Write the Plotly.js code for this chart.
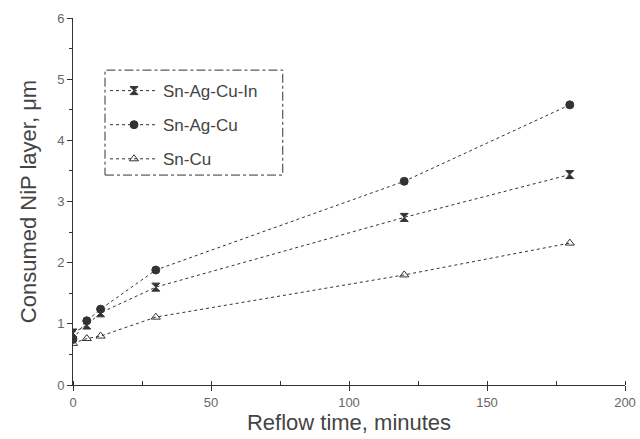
<!DOCTYPE html>
<html>
<head>
<meta charset="utf-8">
<script src="https://cdn.plot.ly/plotly-3.0.1.min.js"></script>
<style>html,body{margin:0;padding:0;background:#fff;}#chart{width:640px;height:439px;}</style>
</head>
<body>
<div id="chart"></div>
<script>
var time = [0, 5, 10, 30, 120, 180];
var snAgCuIn = [0.85, 0.98, 1.18, 1.60, 2.74, 3.44];
var snAgCu = [0.75, 1.05, 1.24, 1.88, 3.33, 4.58];
var snCu = [0.68, 0.76, 0.80, 1.11, 1.80, 2.32];
var seriesNames = ['Sn-Ag-Cu-In', 'Sn-Ag-Cu', 'Sn-Cu'];
var xTicks = [0, 50, 100, 150, 200];
var yTicks = [0, 1, 2, 3, 4, 5, 6];

var col = '#333';
function tr(y, name, sym, g) {
  return {
    x: time, y: y, name: name, type: 'scatter', mode: 'lines+markers', legendgroup: g,
    line: {color: col, width: 1, dash: 'dot'},
    marker: {symbol: sym, size: 8, color: col, line: {color: col, width: 1}}
  };
}
var data = [
  tr(snAgCuIn, seriesNames[0], 'hourglass', 'a'),
  tr(snAgCu, seriesNames[1], 'circle-x', 'b'),
  tr(snCu, seriesNames[2], 'triangle-up-open', 'c')
];
var layout = {
  width: 640, height: 439,
  margin: {l: 73, r: 15, t: 18, b: 54},
  paper_bgcolor: '#fff', plot_bgcolor: '#fff',
  font: {family: 'Liberation Sans, Arial, sans-serif', color: '#444'},
  showlegend: true,
  legend: {x: 0.058, y: 0.85, xanchor: 'left', yanchor: 'top',
    bgcolor: 'rgba(0,0,0,0)', borderwidth: 0,
    font: {size: 17, color: '#444'}, itemwidth: 48, tracegroupgap: 9},
  xaxis: {range: [0, 200], tickvals: xTicks, ticktext: xTicks.map(String),
    showgrid: false, zeroline: false, showline: true, linecolor: col, linewidth: 1,
    ticks: 'outside', ticklen: 5, tickcolor: col,
    minor: {dtick: 25, ticks: 'inside', ticklen: 4, tickcolor: col},
    tickfont: {size: 13, color: '#666'},
    title: {text: 'Reflow time, minutes', font: {size: 22, color: '#444'}, standoff: 2}},
  yaxis: {range: [0, 6], tickvals: yTicks, ticktext: yTicks.map(String),
    showgrid: false, zeroline: false, showline: true, linecolor: col, linewidth: 1,
    ticks: 'outside', ticklen: 5, tickcolor: col,
    minor: {dtick: 0.5, ticks: 'outside', ticklen: 3, tickcolor: col},
    tickfont: {size: 13, color: '#666'},
    title: {text: 'Consumed NiP layer, μm', font: {size: 22, color: '#444'}, standoff: 14}},
  shapes: [{type: 'rect', xref: 'paper', yref: 'paper',
    x0: 0.058, x1: 0.38, y0: 0.572, y1: 0.858,
    line: {color: col, width: 1, dash: 'dashdot'}}]
};
Plotly.newPlot('chart', data, layout, {displayModeBar: false, staticPlot: true});
</script>
</body>
</html>
